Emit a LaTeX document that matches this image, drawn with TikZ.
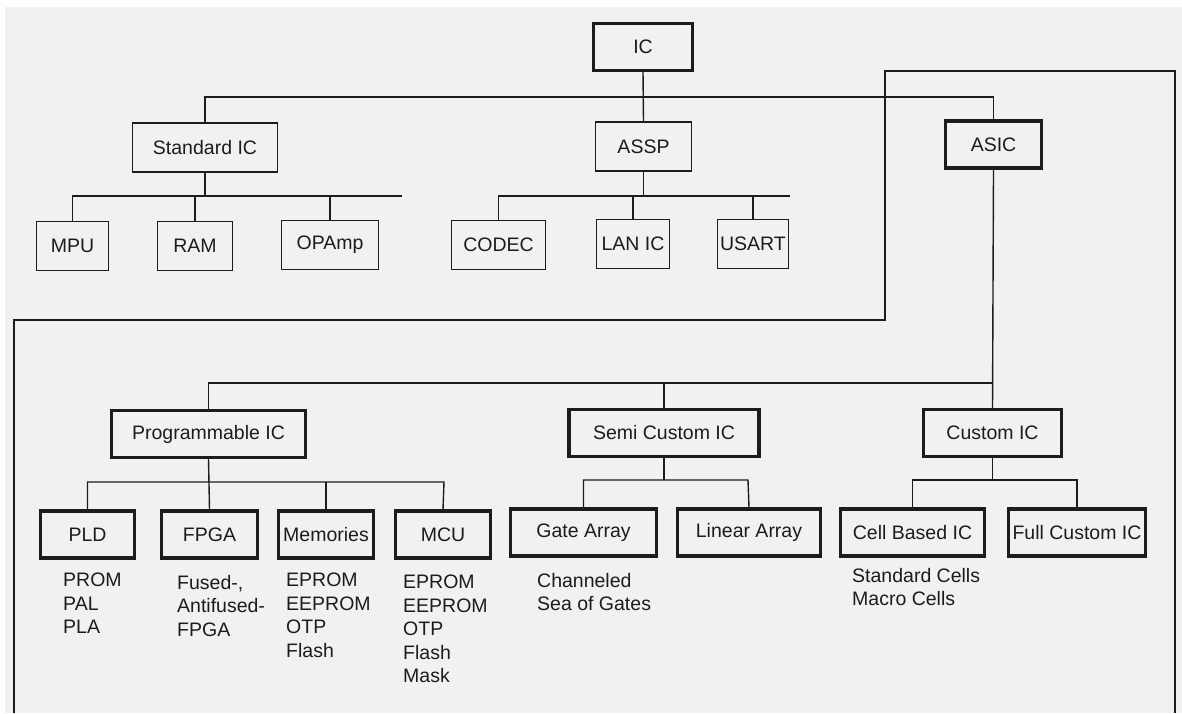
\documentclass[tikz,border=0pt]{standalone}
\usepackage{fontspec}
\setmainfont{Liberation Sans}
\definecolor{ink}{HTML}{1C1C1C}
\definecolor{paper}{HTML}{F1F1F1}
\tikzset{
  lbl/.style={font=\fontsize{19.5}{23.5}\selectfont, text=ink},
  box/.style={lbl, draw=ink, line width=1.5pt, inner sep=0pt, minimum height=49pt},
  boldbox/.style={box, line width=3.2pt, minimum height=47pt},
  wire/.style={draw=ink, line width=1.4pt},
  list/.style={lbl, anchor=north west, align=left, inner sep=0pt},
}
\begin{document}
\begin{tikzpicture}[x=1pt, y=-1pt]
  \useasboundingbox (0,0) rectangle (1182,713);
  \fill[white] (0,0) rectangle (1182,713);
  \fill[paper] (5,7) rectangle (1182,713);

  % top level
  \node[boldbox, minimum width=99pt] (ic) at (643,47) {IC};
  \node[box, minimum width=145pt] (std) at (205,147.5) {Standard IC};
  \node[box, minimum width=96pt] (assp) at (643.5,146.5) {ASSP};
  \node[boldbox, minimum width=96pt] (asic) at (993.5,144.5) {ASIC};

  % standard IC and ASSP families
  \node[box, minimum width=72pt] (mpu) at (72.5,246) {MPU};
  \node[box, minimum width=75pt] (ram) at (195,246) {RAM};
  \node[box, minimum width=97pt] (opamp) at (330,245) {OPAmp};
  \node[box, minimum width=94pt] (codec) at (498.5,245) {CODEC};
  \node[box, minimum width=73pt] (lan) at (633,244) {LAN IC};
  \node[box, minimum width=71pt] (usart) at (753,244) {USART};

  % ASIC families
  \node[boldbox, minimum width=194pt] (prog) at (208.5,434) {Programmable IC};
  \node[boldbox, minimum width=190pt] (semi) at (664,433) {Semi Custom IC};
  \node[boldbox, minimum width=138pt] (custom) at (992.5,433) {Custom IC};

  \node[boldbox, minimum width=94pt] (pld) at (87.5,534.5) {PLD};
  \node[boldbox, minimum width=96pt] (fpga) at (209.5,534.5) {FPGA};
  \node[boldbox, minimum width=95pt] (mem) at (326,534.5) {Memories};
  \node[boldbox, minimum width=95pt] (mcu) at (443,534.5) {MCU};
  \node[boldbox, minimum width=146pt] (gate) at (583.5,532.5) {Gate Array};
  \node[boldbox, minimum width=143pt] (linear) at (749,532.5) {Linear Array};
  \node[boldbox, minimum width=144pt] (cell) at (912.5,532.5) {Cell Based IC};
  \node[boldbox, minimum width=137pt] (full) at (1077,532.5) {Full Custom IC};

  % technology lists
  \node[list] (pldlist) at (63,573) {PROM\\PAL\\PLA};
  \node[list] (fpgalist) at (177,575) {Fused-,\\Antifused-\\FPGA};
  \node[list] (memlist) at (286,573) {EPROM\\EEPROM\\OTP\\Flash};
  \node[list] (mculist) at (403,575) {EPROM\\EEPROM\\OTP\\Flash\\Mask};
  \node[list] (gatelist) at (537,573) {Channeled\\Sea of Gates};
  \node[list] (celllist) at (852,568) {Standard Cells\\Macro Cells};

  % bus coordinates
  \coordinate (topbus) at (643,97);
  \coordinate (stdbus) at (402,196);
  \coordinate (asspbus) at (790,196);
  \coordinate (asicbus) at (993,383);
  \coordinate (progbus) at (444,482);
  \coordinate (semibus) at (748,480);
  \coordinate (custbus) at (1077,480);

  % frame around the ASIC branch
  \coordinate (fa) at (14,713);
  \coordinate (fb) at (14,320);
  \coordinate (fc) at (885,320);
  \coordinate (fd) at (885,71);
  \coordinate (fe) at (1175,71);
  \coordinate (ff) at (1175,713);
  \draw[wire] (fa) -- (fb) -- (fc) -- (fd) -- (fe) -- (ff);

  % IC tree
  \draw[wire] (ic.south) -- (assp.north);
  \draw[wire] (std.north) |- (topbus) -| (asic.north);

  \draw[wire] (mpu.north) |- (stdbus);
  \draw[wire] (std.south) -- (std.south |- stdbus);
  \draw[wire] (ram.north) -- (ram.north |- stdbus);
  \draw[wire] (opamp.north) -- (opamp.north |- stdbus);

  \draw[wire] (codec.north) |- (asspbus);
  \draw[wire] (assp.south) -- (assp.south |- asspbus);
  \draw[wire] (lan.north) -- (lan.north |- asspbus);
  \draw[wire] (usart.north) -- (usart.north |- asspbus);

  % ASIC tree
  \draw[wire] (asic.south) -- (custom.north);
  \draw[wire] (prog.north) |- (asicbus);
  \draw[wire] (semi.north) -- (semi.north |- asicbus);

  \draw[wire] (pld.north) |- (progbus) -- (mcu.north);
  \draw[wire] (prog.south) -- (fpga.north);
  \draw[wire] (mem.north) -- (mem.north |- progbus);

  \draw[wire] (gate.north) |- (semibus) -- (linear.north);
  \draw[wire] (semi.south) -- (semi.south |- semibus);

  \draw[wire] (cell.north) |- (custbus) -- (full.north);
  \draw[wire] (custom.south) -- (custom.south |- custbus);
\end{tikzpicture}
\end{document}
